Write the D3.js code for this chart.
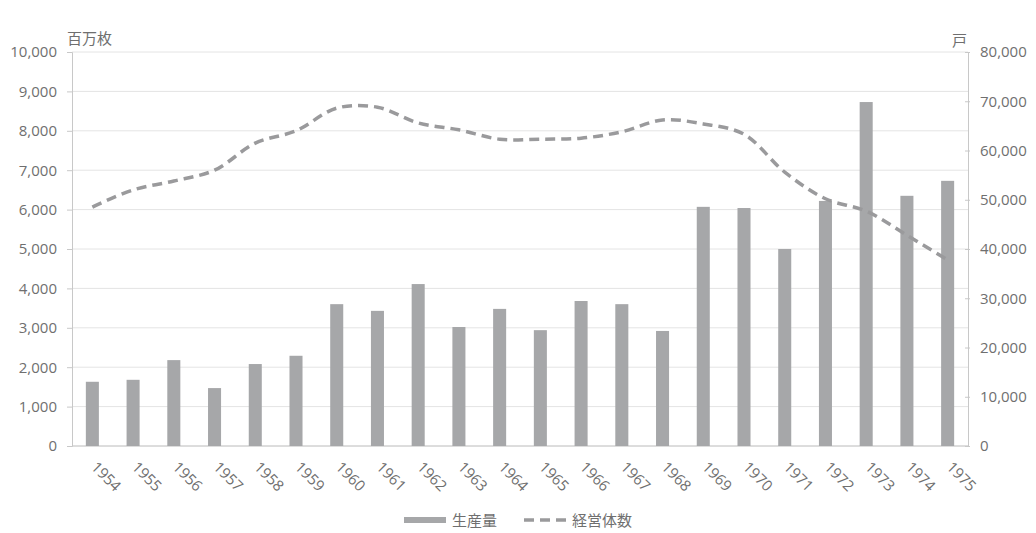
<!DOCTYPE html>
<html>
<head>
<meta charset="utf-8">
<script src="https://cdn.jsdelivr.net/npm/d3@7"></script>
<style>
  html, body { margin: 0; padding: 0; background: #fff; }
  svg { display: block; }
  text { font-family: "Noto Sans CJK JP", "Noto Sans", sans-serif; fill: #6f6f6f; }
</style>
</head>
<body>
<svg id="chart" width="1036" height="533"></svg>
<script>
// Production volume (million sheets) and number of businesses (households), 1954–1975
const years = ["1954","1955","1956","1957","1958","1959","1960","1961","1962","1963","1964",
               "1965","1966","1967","1968","1969","1970","1971","1972","1973","1974","1975"];
const production = [1630, 1680, 2180, 1470, 2080, 2290, 3600, 3430, 4110, 3020, 3480,
                    2940, 3680, 3600, 2920, 6070, 6040, 5000, 6220, 8730, 6350, 6730];
const businesses = [48500, 52000, 53800, 56000, 61500, 64000, 68600, 68800, 65600, 64200, 62300,
                    62300, 62500, 63800, 66200, 65400, 63300, 55600, 50200, 47700, 42800, 37800];
const leftTicks = [0, 1000, 2000, 3000, 4000, 5000, 6000, 7000, 8000, 9000, 10000];
const rightTicks = [0, 10000, 20000, 30000, 40000, 50000, 60000, 70000, 80000];
const seriesNames = ["生産量", "経営体数"];
const leftUnit = "百万枚";
const rightUnit = "戸";

const svg = d3.select("#chart");
const margin = { left: 72, right: 68, top: 52, bottom: 87 };
const W = 1036, H = 533;
const x0 = margin.left, x1 = W - margin.right;
const y0 = H - margin.bottom, y1 = margin.top;

const x = d3.scaleBand().domain(years).range([x0, x1]).paddingInner(0.68).paddingOuter(0.34);
const yL = d3.scaleLinear().domain([0, 10000]).range([y0, y1]);
const yR = d3.scaleLinear().domain([0, 80000]).range([y0, y1]);

const fmt = d3.format(",");
const axisColor = "#c8c8c8";
const gridColor = "#e4e4e4";
const textColor = "#6f6f6f";
const numFont = "'Open Sans', sans-serif";

// Gridlines
svg.append("g").selectAll("line").data(leftTicks).join("line")
  .attr("x1", x0).attr("x2", x1)
  .attr("y1", d => yL(d)).attr("y2", d => yL(d))
  .attr("stroke", gridColor).attr("stroke-width", 1);

// Left axis
const gL = svg.append("g").attr("transform", `translate(${x0},0)`)
  .call(d3.axisLeft(yL).tickValues(leftTicks).tickFormat(fmt).tickSize(5).tickPadding(10));
gL.select(".domain").attr("stroke", axisColor);
gL.selectAll(".tick line").attr("stroke", axisColor);
gL.selectAll("text").attr("font-size", 15).style("fill", textColor).style("font-family", numFont);

// Right axis
const gR = svg.append("g").attr("transform", `translate(${x1},0)`)
  .call(d3.axisRight(yR).tickValues(rightTicks).tickFormat(fmt).tickSize(0).tickPadding(12));
gR.select(".domain").attr("stroke", axisColor);
gR.selectAll(".tick").append("line").attr("x1", -3).attr("x2", 2).attr("stroke", axisColor);
gR.selectAll("text").attr("font-size", 15).style("fill", textColor).style("font-family", numFont);

// Bottom baseline
svg.append("line").attr("x1", x0).attr("x2", x1).attr("y1", y0).attr("y2", y0)
  .attr("stroke", axisColor);

// Bars
svg.append("g").selectAll("rect").data(years).join("rect")
  .attr("x", d => x(d))
  .attr("width", x.bandwidth())
  .attr("y", (d, i) => yL(production[i]))
  .attr("height", (d, i) => y0 - yL(production[i]))
  .attr("fill", "#a6a7a9");

// Dashed smoothed line
const line = d3.line()
  .x((d, i) => x(years[i]) + x.bandwidth() / 2)
  .y(d => yR(d))
  .curve(d3.curveCatmullRom.alpha(0.5));
svg.append("path").datum(businesses)
  .attr("d", line)
  .attr("fill", "none")
  .attr("stroke", "#9a9a9c")
  .attr("stroke-width", 3.5)
  .attr("stroke-dasharray", "10,6");

// Category labels, rotated
svg.append("g").selectAll("text").data(years).join("text")
  .attr("transform", d => `translate(${x(d) + x.bandwidth() / 2 - 2},${y0 + 22}) rotate(45)`)
  .attr("font-size", 15)
  .style("font-family", numFont)
  .style("fill", textColor)
  .text(d => d);

// Unit labels
svg.append("text").attr("x", 67).attr("y", 44).attr("font-size", 15).text(leftUnit);
svg.append("text").attr("x", 952).attr("y", 46).attr("font-size", 15).text(rightUnit);

// Legend
const lg = svg.append("g");
lg.append("rect").attr("x", 404).attr("y", 517).attr("width", 42).attr("height", 6).attr("fill", "#a6a7a9");
lg.append("text").attr("x", 452).attr("y", 526).attr("font-size", 15).text(seriesNames[0]);
lg.append("line").attr("x1", 524).attr("x2", 569).attr("y1", 520).attr("y2", 520)
  .attr("stroke", "#9a9a9c").attr("stroke-width", 3.5).attr("stroke-dasharray", "10,6");
lg.append("text").attr("x", 572).attr("y", 526).attr("font-size", 15).text(seriesNames[1]);
</script>
</body>
</html>
